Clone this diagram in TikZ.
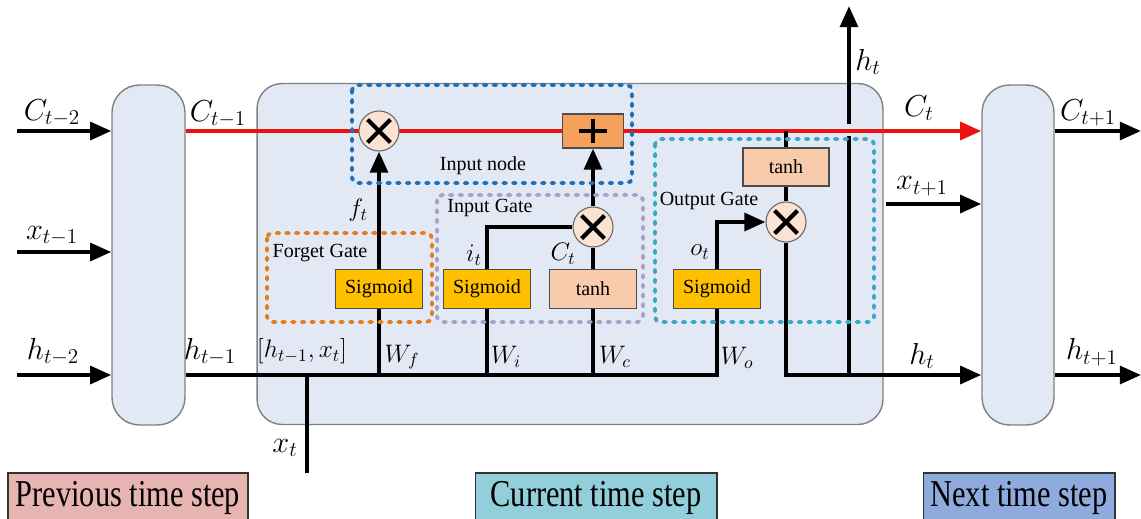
\documentclass[tikz,border=0pt]{standalone}
\usepackage{fontspec}
\setmainfont{Liberation Serif}
\newfontfamily\stepfont[FakeStretch=0.8]{Liberation Serif}
\usetikzlibrary{arrows.meta,positioning}
\pgfdeclarelayer{back}
\pgfdeclarelayer{lines}
\pgfsetlayers{back,lines,main}
\definecolor{CellClr}{HTML}{E3E9F4}
\definecolor{CellLineClr}{HTML}{808080}
\definecolor{StateClr}{HTML}{EE1111}
\definecolor{MulClr}{HTML}{FBE3D3}
\definecolor{AddClr}{HTML}{F4A15C}
\definecolor{SigClr}{HTML}{FFC000}
\definecolor{TanhClr}{HTML}{F8CBAD}
\definecolor{ForgetClr}{HTML}{E57C1E}
\definecolor{NodeClr}{HTML}{1F70B8}
\definecolor{InputClr}{HTML}{ABA0C6}
\definecolor{OutputClr}{HTML}{3BA8C4}
\definecolor{PrevClr}{HTML}{E6B5B1}
\definecolor{CurClr}{HTML}{93CEDB}
\definecolor{NextClr}{HTML}{8FAADC}

\tikzset{
  cell/.style={draw=CellLineClr,line width=0.8pt,fill=CellClr,rounded corners=0.5cm,minimum height=6.8cm},
  gatebox/.style={draw=black!70,line width=0.6pt,minimum width=1.74cm,minimum height=0.78cm,inner sep=0pt,font=\fontsize{11.4}{13}\selectfont},
  sig/.style={gatebox,fill=SigClr},
  tanhbox/.style={gatebox,fill=TanhClr},
  mul/.style={circle,draw=black!60,line width=0.6pt,fill=MulClr,minimum size=0.8cm,inner sep=0pt,
    path picture={\draw[black,line width=2.4pt]
      ([shift={(-6.5pt,-6.5pt)}]path picture bounding box.center) -- ([shift={(6.5pt,6.5pt)}]path picture bounding box.center)
      ([shift={(-6.5pt,6.5pt)}]path picture bounding box.center) -- ([shift={(6.5pt,-6.5pt)}]path picture bounding box.center);}},
  addbox/.style={draw=black!70,line width=0.6pt,fill=AddClr,minimum width=1.22cm,minimum height=0.68cm,inner sep=0pt,
    path picture={\draw[black,line width=2.6pt]
      ([shift={(-8pt,0pt)}]path picture bounding box.center) -- ([shift={(8pt,0pt)}]path picture bounding box.center)
      ([shift={(0pt,-7pt)}]path picture bounding box.center) -- ([shift={(0pt,7pt)}]path picture bounding box.center);}},
  frame/.style={line width=2.2pt,dash pattern=on 1.5pt off 4pt,line cap=round,rounded corners=3pt},
  wire/.style={line width=2.4pt},
  arr/.style={wire,-{Triangle[length=12pt,width=10pt]}},
  state/.style={line width=2.4pt,draw=StateClr,-{Triangle[length=12pt,width=10pt]}},
  bigmath/.style={font=\fontsize{18}{20}\selectfont,inner sep=0pt},
  smallmath/.style={font=\fontsize{14}{16}\selectfont,inner sep=0pt},
  title/.style={font=\fontsize{11.4}{13}\selectfont,inner sep=0pt},
  stepbox/.style={draw=black!80,line width=0.6pt,minimum height=1.0cm,inner sep=0pt,font=\stepfont\fontsize{21.6}{24}\selectfont}
}

\begin{document}
\begin{tikzpicture}[x=0.02cm,y=-0.02cm]
\useasboundingbox (0,0) rectangle (1141,518);

\begin{pgfonlayer}{back}
\node[cell,minimum width=1.46cm,rounded corners=0.55cm] (prev) at (148.5,255) {};
\node[cell,minimum width=12.52cm,minimum height=6.82cm] (cur) at (570,254) {};
\node[cell,minimum width=1.44cm,rounded corners=0.55cm] (next) at (1018,255) {};
\end{pgfonlayer}

\draw[frame,NodeClr] (352,85) rectangle (632,183);
\draw[frame,ForgetClr] (267,233) rectangle (432,322);
\draw[frame,InputClr] (437,195) rectangle (643,322);
\draw[frame,OutputClr] (655,139) rectangle (874,322);

\coordinate (hrow) at (0,375);
\coordinate (c0) at (17,131);
\coordinate (x0) at (17,252);
\coordinate (h0) at (17,375);
\coordinate (x2) at (886,204);
\coordinate (c2) at (1141,131);
\coordinate (h2) at (1141,375);
\coordinate (xin) at (307,473);
\coordinate (htop) at (849,6);
\coordinate (hlow) at (849,136);
\coordinate (hhigh) at (849,124);

\node[mul] (fmul) at (379,131) {};
\node[addbox] (add) at (593,131) {};
\node[mul] (imul) at (593,227) {};
\node[mul] (omul) at (786,222) {};
\node[sig] (fsig) at (379,289) {Sigmoid};
\node[sig] (isig) at (487,289) {Sigmoid};
\node[tanhbox] (itanh) at (593,289) {tanh};
\node[sig] (osig) at (717,289) {Sigmoid};
\node[tanhbox,minimum width=1.72cm,minimum height=0.76cm] (otanh) at (786,167) {tanh};

\begin{pgfonlayer}{lines}
\draw[wire] (hhigh |- hrow) -- (hlow);
\draw[arr] (hhigh) -- (htop);
\draw[state] (prev.east |- add) -- (next.west |- add);
\draw[arr] (c0) -- (c0 -| prev.west);
\draw[arr] (x0) -- (x0 -| prev.west);
\draw[arr] (h0) -- (h0 -| prev.west);
\draw[wire] (prev.east |- hrow) -- (osig.south |- hrow) -- (osig.south);
\draw[wire] (xin) -- (xin |- hrow);
\draw[wire] (fsig.south |- hrow) -- (fsig.south);
\draw[arr] (fsig.north) -- (fmul.south);
\draw[wire] (isig.south |- hrow) -- (isig.south);
\draw[wire] (isig.north) |- (imul.west);
\draw[wire] (itanh.south |- hrow) -- (itanh.south);
\draw[wire] (itanh.north) -- (imul.south);
\draw[arr] (imul.north) -- (add.south);
\draw[arr] (osig.north) |- (omul.west);
\draw[wire] (otanh.north |- add) -- (otanh.north);
\draw[wire] (otanh.south) -- (omul.north);
\draw[arr] (omul.south) |- (next.west |- hrow);
\draw[arr] (x2) -- (x2 -| next.west);
\draw[arr] (next.east |- c2) -- (c2);
\draw[arr] (next.east |- h2) -- (h2);
\end{pgfonlayer}

\node[title] (tforget) at (320,253) {Forget Gate};
\node[title] (tinput) at (490,208) {Input Gate};
\node[title] (tnode) at (483,166) {Input node};
\node[title] (toutput) at (709,201) {Output Gate};

\node[bigmath] (lc0) at (52,113) {$C_{t-2}$};
\node[bigmath] (lx0) at (52,236) {$x_{t-1}$};
\node[bigmath] (lh0) at (53,352) {$h_{t-2}$};
\node[bigmath] (lc1) at (218,114) {$C_{t-1}$};
\node[bigmath] (lh1) at (210,352) {$h_{t-1}$};
\node[bigmath] (lxt) at (285,448) {$x_t$};
\node[bigmath] (lhup) at (868,62) {$h_t$};
\node[bigmath] (lct) at (919,108) {$C_t$};
\node[bigmath] (lx2) at (922,186) {$x_{t+1}$};
\node[bigmath] (lht) at (922,356) {$h_t$};
\node[bigmath] (lc2) at (1088,113) {$C_{t+1}$};
\node[bigmath] (lh2) at (1092,352) {$h_{t+1}$};

\node[smallmath] (lconcat) at (302,351) {$\bigl[h_{t-1},x_t\bigr]$};
\node[smallmath] (lwf) at (402,357) {$W_f$};
\node[smallmath] (lwi) at (506,357) {$W_i$};
\node[smallmath] (lwc) at (615,357) {$W_c$};
\node[smallmath] (lwo) at (737,358) {$W_o$};
\node[smallmath] (lf) at (358,210) {$f_t$};
\node[smallmath] (li) at (474,255) {$i_t$};
\node[smallmath] (lcand) at (563,254) {$C_t$};
\node[smallmath] (lo) at (700,252) {$o_t$};

\node[stepbox,fill=PrevClr,minimum width=4.8cm] (sprev) at (128,498) {Previous time step};
\node[stepbox,fill=CurClr,minimum width=4.84cm] (scur) at (596,498) {Current time step};
\node[stepbox,fill=NextClr,minimum width=3.84cm] (snext) at (1019,498) {Next time step};
\end{tikzpicture}
\end{document}
